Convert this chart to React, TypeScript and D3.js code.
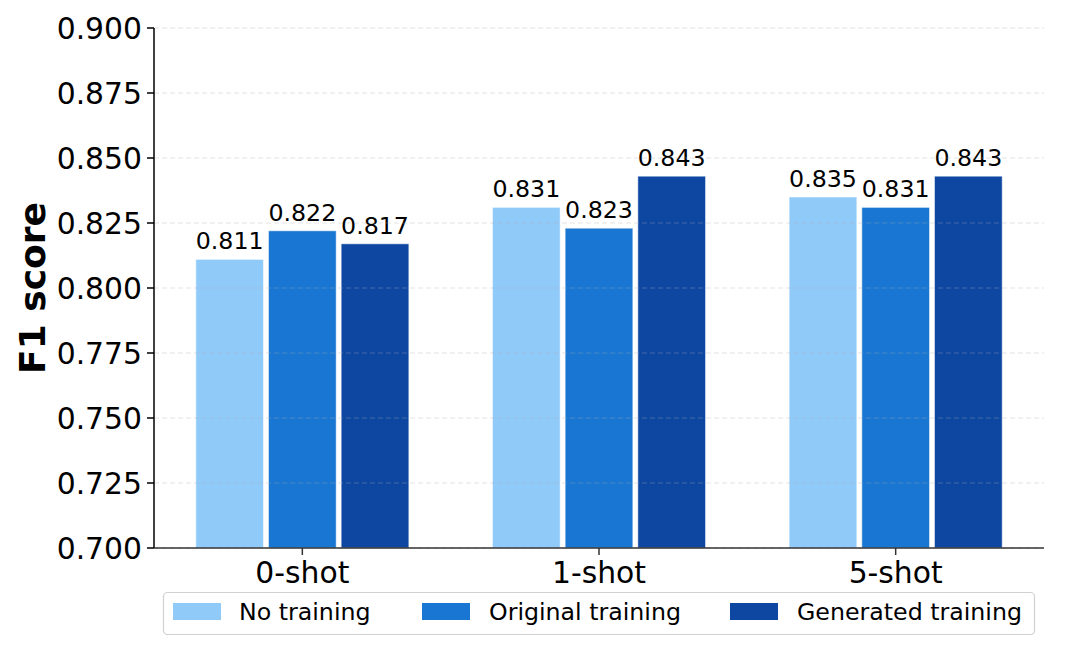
import React from "react";
import * as d3 from "d3";

const categories = ["0-shot", "1-shot", "5-shot"];
const seriesNames = ["No training", "Original training", "Generated training"];
const noTraining = [0.811, 0.831, 0.835];
const originalTraining = [0.822, 0.823, 0.831];
const generatedTraining = [0.817, 0.843, 0.843];
const yTicks = [0.7, 0.725, 0.75, 0.775, 0.8, 0.825, 0.85, 0.875, 0.9];
const colors = ["#90CAF9", "#1976D2", "#0D47A1"];

const W = 1080;
const H = 648;
const left = 154;
const right = 1044;
const top = 28;
const bottom = 548;
const font = "DejaVu Sans, Verdana, sans-serif";

export default function App() {
  const series = [noTraining, originalTraining, generatedTraining];
  const x = d3.scaleLinear().domain([-0.5, categories.length - 0.5]).range([left, right]);
  const y = d3.scaleLinear().domain([0.7, 0.9]).range([bottom, top]);
  const step = 0.245;
  const inset = 2.5;

  const legendItems = [
    { patch: 173, text: 239 },
    { patch: 422, text: 489 },
    { patch: 730, text: 797 },
  ];

  return (
    <svg
      width={W}
      height={H}
      style={{ position: "absolute", left: 0, top: 0, background: "#fff" }}
      fontFamily={font}
    >
      <rect x={0} y={0} width={W} height={H} fill="#fff" />
      {/* bars */}
      {series.map((vals, j) =>
        vals.map((v, i) => {
          const cx = i + (j - 1) * step;
          const x0 = x(cx - step / 2) + inset;
          const x1 = x(cx + step / 2) - inset;
          return (
            <g key={`${j}-${i}`}>
              <rect
                x={x0}
                y={y(v)}
                width={x1 - x0}
                height={bottom - y(v)}
                fill={colors[j]}
                stroke="rgba(255,255,255,0.5)"
                strokeWidth={1}
              />
              <text
                x={(x0 + x1) / 2}
                y={y(v) - 10}
                textAnchor="middle"
                fontSize={23.7}
                fill="#000"
              >
                {d3.format(".3f")(v)}
              </text>
            </g>
          );
        })
      )}
      {/* grid */}
      {yTicks.map((t) => (
        <line
          key={`g${t}`}
          x1={left}
          x2={right}
          y1={y(t)}
          y2={y(t)}
          stroke="#b0b0b0"
          strokeOpacity={0.35}
          strokeWidth={1}
          strokeDasharray="5,3"
        />
      ))}
      {/* y axis */}
      <line x1={left} x2={left} y1={top} y2={bottom} stroke="#000" strokeWidth={1.5} />
      {yTicks.map((t) => (
        <g key={`t${t}`}>
          <line x1={left - 7} x2={left} y1={y(t)} y2={y(t)} stroke="#000" strokeWidth={1.5} />
          <text
            x={left - 12}
            y={y(t)}
            dy="0.36em"
            textAnchor="end"
            fontSize={29.8}
            fill="#000"
          >
            {d3.format(".3f")(t)}
          </text>
        </g>
      ))}
      {/* x axis */}
      <line x1={left} x2={right} y1={bottom} y2={bottom} stroke="#333" strokeWidth={1.5} />
      {categories.map((c, i) => (
        <g key={c}>
          <line x1={x(i)} x2={x(i)} y1={bottom} y2={bottom + 7} stroke="#333" strokeWidth={1.5} />
          <text x={x(i)} y={583} textAnchor="middle" fontSize={29.8} fill="#000">
            {c}
          </text>
        </g>
      ))}
      {/* y label */}
      <text
        transform={`translate(45, ${(top + bottom) / 2}) rotate(-90)`}
        textAnchor="middle"
        fontSize={36}
        fontWeight="bold"
        fill="#000"
      >
        F1 score
      </text>
      {/* legend */}
      <rect
        x={163.5}
        y={592.5}
        width={871}
        height={42}
        rx={4}
        ry={4}
        fill="#fff"
        fillOpacity={0.8}
        stroke="#d0d0d0"
        strokeWidth={1.2}
      />
      {seriesNames.map((s, j) => (
        <g key={s}>
          <rect x={legendItems[j].patch} y={603} width={48} height={17} fill={colors[j]} />
          <text x={legendItems[j].text} y={620} fontSize={23.7} fill="#000">
            {s}
          </text>
        </g>
      ))}
    </svg>
  );
}
